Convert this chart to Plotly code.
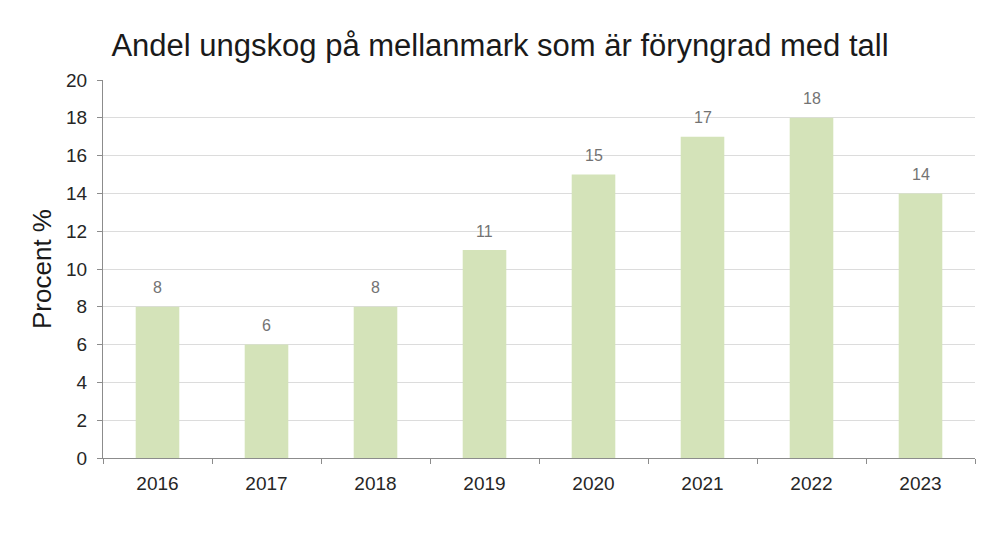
import plotly.graph_objects as go

years = ["2016", "2017", "2018", "2019", "2020", "2021", "2022", "2023"]
values = [8, 6, 8, 11, 15, 17, 18, 14]

fig = go.Figure()
fig.add_trace(go.Bar(
    x=years, y=values,
    marker=dict(color="#d4e3b9", line=dict(width=0)),
    width=0.4,
))

for i, v in enumerate(values):
    fig.add_annotation(
        x=i, y=v, text=str(v), showarrow=False,
        yanchor="middle", yshift=19,
        font=dict(family="Liberation Sans, Arial", size=16, color="#737373"),
    )

fig.update_layout(
    width=1000, height=535,
    margin=dict(l=103, r=25, t=80, b=77),
    paper_bgcolor="white", plot_bgcolor="white",
    title=dict(text="Andel ungskog på mellanmark som är föryngrad med tall",
               x=0.5, xanchor="center", y=0.915, yanchor="middle",
               font=dict(family="Liberation Sans, Arial", size=31, color="#1a1a1a")),
    font=dict(family="Liberation Sans, Arial", color="#262626"),
    showlegend=False,
    bargap=0.6,
)
fig.update_yaxes(
    range=[0, 20], dtick=2, tick0=0,
    showgrid=True, gridcolor="#dcdcdc", gridwidth=1,
    showline=True, linecolor="#8c8c8c", linewidth=1,
    ticks="outside", ticklen=5, tickcolor="#8c8c8c",
    ticklabelstandoff=6,
    tickfont=dict(size=19, color="#262626"),
    title=dict(text="Procent %", font=dict(size=26, color="#1a1a1a"), standoff=6),
    zeroline=False,
)
fig.update_xaxes(
    type="category",
    range=[-0.5, len(years) - 0.5],
    showline=True, linecolor="#8c8c8c", linewidth=1,
    ticks="outside", ticklen=5, tickcolor="#8c8c8c",
    tickson="boundaries",
    ticklabelstandoff=8,
    tickangle=0,
    tickfont=dict(size=19, color="#262626"),
)

fig.write_html("out.html")
